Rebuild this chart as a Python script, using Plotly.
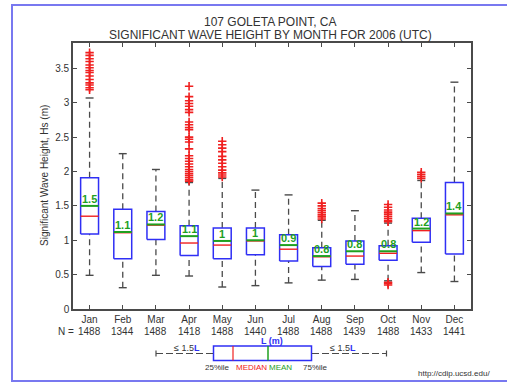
import plotly.graph_objects as go

# Monthly significant wave height statistics, station 107 Goleta Point (2006)
months = ["Jan", "Feb", "Mar", "Apr", "May", "Jun",
          "Jul", "Aug", "Sep", "Oct", "Nov", "Dec"]
counts = [1488, 1344, 1488, 1418, 1488, 1440, 1488, 1488, 1439, 1488, 1433, 1441]
q1 = [1.09, 0.73, 1.01, 0.78, 0.73, 0.79, 0.70, 0.62, 0.65, 0.71, 0.97, 0.80]
median = [1.35, 1.11, 1.22, 0.96, 0.93, 0.99, 0.87, 0.76, 0.77, 0.81, 1.14, 1.37]
mean = [1.50, 1.12, 1.23, 1.06, 0.99, 1.00, 0.93, 0.77, 0.84, 0.84, 1.17, 1.39]
q3 = [1.91, 1.45, 1.42, 1.21, 1.18, 1.18, 1.08, 0.89, 0.99, 0.92, 1.32, 1.84]
whisker_low = [0.49, 0.31, 0.49, 0.48, 0.32, 0.34, 0.38, 0.42, 0.43, 0.41, 0.53, 0.40]
whisker_high = [3.07, 2.26, 2.03, 1.84, 1.90, 1.73, 1.66, 1.29, 1.43, 1.25, 1.87, 3.30]
outliers = [
    [3.73, 3.69, 3.64, 3.60, 3.55, 3.51, 3.47, 3.44, 3.39, 3.34, 3.29, 3.26, 3.22, 3.19],
    [],
    [],
    [3.24, 3.09, 3.03, 2.99, 2.95, 2.90, 2.86, 2.72, 2.68, 2.64, 2.61, 2.50, 2.47,
     2.43, 2.33, 2.23, 2.19, 2.15, 2.11, 2.07, 2.03, 2.00, 1.97, 1.94, 1.91, 1.88, 1.86],
    [2.44, 2.39, 2.34, 2.29, 2.22, 2.17, 2.12, 2.07, 2.02, 1.98, 1.95, 1.92],
    [],
    [],
    [1.54, 1.50, 1.46, 1.43, 1.40, 1.37, 1.34, 1.31],
    [],
    [1.52, 1.48, 1.44, 1.41, 1.38, 1.35, 1.32, 1.29, 1.27, 0.39, 0.37, 0.35],
    [1.99, 1.96, 1.93, 1.90],
    [],
]
y_ticks = [0, 0.5, 1, 1.5, 2, 2.5, 3, 3.5]

FONT = "Liberation Sans, Arial, sans-serif"
BOX_BLUE = "#2f2ff5"
MED_RED = "#f02020"
MEAN_GREEN = "#1fa01f"
WHISK = "#4a4a4a"
AXIS = "#4a4a4a"
TXT = "#333333"

HALF = 0.27   # half box width (month units)
CAP = 0.12    # half whisker-cap width

fig = go.Figure()

for i, m in enumerate(months):
    x = i + 1
    # dashed whiskers
    for a, b in ((q3[i], whisker_high[i]), (whisker_low[i], q1[i])):
        fig.add_trace(go.Scatter(
            x=[x, x], y=[a, b], mode="lines",
            line=dict(color=WHISK, width=1.3, dash="6px,4px"),
            hoverinfo="skip", showlegend=False))
    # whisker caps
    for v in (whisker_low[i], whisker_high[i]):
        fig.add_trace(go.Scatter(
            x=[x - CAP, x + CAP], y=[v, v], mode="lines",
            line=dict(color=WHISK, width=1.4),
            hoverinfo="skip", showlegend=False))
    # interquartile box
    fig.add_trace(go.Scatter(
        x=[x - HALF, x + HALF, x + HALF, x - HALF, x - HALF],
        y=[q1[i], q1[i], q3[i], q3[i], q1[i]],
        mode="lines", fill="toself", fillcolor="white",
        line=dict(color=BOX_BLUE, width=1.5),
        hoverinfo="skip", showlegend=False))
    # median and mean lines
    fig.add_trace(go.Scatter(
        x=[x - HALF, x + HALF], y=[median[i], median[i]], mode="lines",
        line=dict(color=MED_RED, width=1.4),
        hoverinfo="skip", showlegend=False))
    fig.add_trace(go.Scatter(
        x=[x - HALF, x + HALF], y=[mean[i], mean[i]], mode="lines",
        line=dict(color=MEAN_GREEN, width=2),
        hoverinfo="skip", showlegend=False))
    # outliers
    if outliers[i]:
        fig.add_trace(go.Scatter(
            x=[x] * len(outliers[i]), y=outliers[i], mode="markers",
            marker=dict(symbol="cross-thin", size=6,
                        line=dict(color=MED_RED, width=1.6)),
            hoverinfo="skip", showlegend=False))
    # mean value label
    fig.add_annotation(
        x=x, y=mean[i], xref="x", yref="y",
        text="<b>%s</b>" % format(round(mean[i], 1), "g"),
        showarrow=False, xanchor="center", yanchor="bottom", yshift=-1,
        font=dict(family=FONT, size=11, color=MEAN_GREEN))
    # sample count row
    fig.add_annotation(
        x=x, y=-0.085, xref="x", yref="paper", text=str(counts[i]),
        showarrow=False, xanchor="center", yanchor="middle",
        font=dict(family=FONT, size=10, color=TXT))


# --- helpers: pixel position -> paper coordinates ---
def px(xp):
    return (xp - 73) / 398.0


def py(yp):
    return (309 - yp) / 266.0


def label(xp, yp, text, size=8, color=TXT, xanchor="center", **kw):
    fig.add_annotation(x=px(xp), y=py(yp), xref="paper", yref="paper",
                       text=text, showarrow=False, xanchor=xanchor,
                       yanchor="middle", font=dict(family=FONT, size=size, color=color),
                       **kw)


label(76, 331.5, "N =", size=10, xanchor="right")

# title
label(270, 21.5, "107 GOLETA POINT, CA", size=12)
label(270, 35, "SIGNIFICANT WAVE HEIGHT BY MONTH FOR 2006 (UTC)", size=12)

# y-axis title
label(44, 176, "Significant Wave Height, Hs (m)", size=10, textangle=-90)

# --- key diagram under the chart ---
shapes = []
ky = py(353.5)
shapes.append(dict(type="rect", xref="paper", yref="paper",
                   x0=px(213.5), x1=px(311.5), y0=py(360.5), y1=py(346),
                   line=dict(color=BOX_BLUE, width=1.5)))
shapes.append(dict(type="line", xref="paper", yref="paper",
                   x0=px(233), x1=px(233), y0=py(360.5), y1=py(346),
                   line=dict(color=MED_RED, width=1.2)))
shapes.append(dict(type="line", xref="paper", yref="paper",
                   x0=px(268), x1=px(268), y0=py(360.5), y1=py(346),
                   line=dict(color=MEAN_GREEN, width=1.5)))
for a, b in ((156, 213), (312, 386)):
    shapes.append(dict(type="line", xref="paper", yref="paper",
                       x0=px(a), x1=px(b), y0=ky, y1=ky,
                       line=dict(color=WHISK, width=1.2, dash="7px,3px")))
for a in (156, 386.5):
    shapes.append(dict(type="line", xref="paper", yref="paper",
                       x0=px(a), x1=px(a), y0=py(350.5), y1=py(356.5),
                       line=dict(color=WHISK, width=1.2)))
# outer frame
shapes.append(dict(type="rect", xref="paper", yref="paper",
                   x0=px(12), x1=px(520), y0=py(381), y1=py(5),
                   line=dict(color="#7878f0", width=2)))

label(187, 348, "≤ 1.5<span style='color:#2f2ff5'><b>L</b></span>", size=9)
label(343, 348, "≤ 1.5<span style='color:#2f2ff5'><b>L</b></span>", size=9)
label(272, 340.5, "<b>L (m)</b>", size=9, color=BOX_BLUE)
label(232, 367, "25%ile", xanchor="right")
label(234, 367, "MEDIAN", color=MED_RED, xanchor="left")
label(267, 367, "MEAN", color=MEAN_GREEN, xanchor="left")
label(301, 367, "75%ile", xanchor="left")
label(492, 373, "http://cdip.ucsd.edu/", xanchor="right")

fig.update_layout(
    width=507, height=383,
    margin=dict(l=73, r=36, t=43, b=74),
    paper_bgcolor="white", plot_bgcolor="white",
    shapes=shapes,
    showlegend=False,
    xaxis=dict(range=[0.5, 12.5], tickvals=list(range(1, 13)), ticktext=months,
               ticks="inside", ticklen=4, tickwidth=1.2, tickcolor=AXIS,
               showline=True, linecolor=AXIS, linewidth=1.6, mirror="ticks",
               showgrid=False, zeroline=False,
               tickfont=dict(family=FONT, size=10, color=TXT)),
    yaxis=dict(range=[0, 3.87], tickvals=y_ticks,
               ticktext=[format(v, "g") for v in y_ticks],
               ticks="inside", ticklen=4, tickwidth=1.2, tickcolor=AXIS,
               showline=True, linecolor=AXIS, linewidth=1.6, mirror="ticks",
               showgrid=False, zeroline=False,
               tickfont=dict(family=FONT, size=10, color=TXT)),
)

fig.write_html("out.html")
